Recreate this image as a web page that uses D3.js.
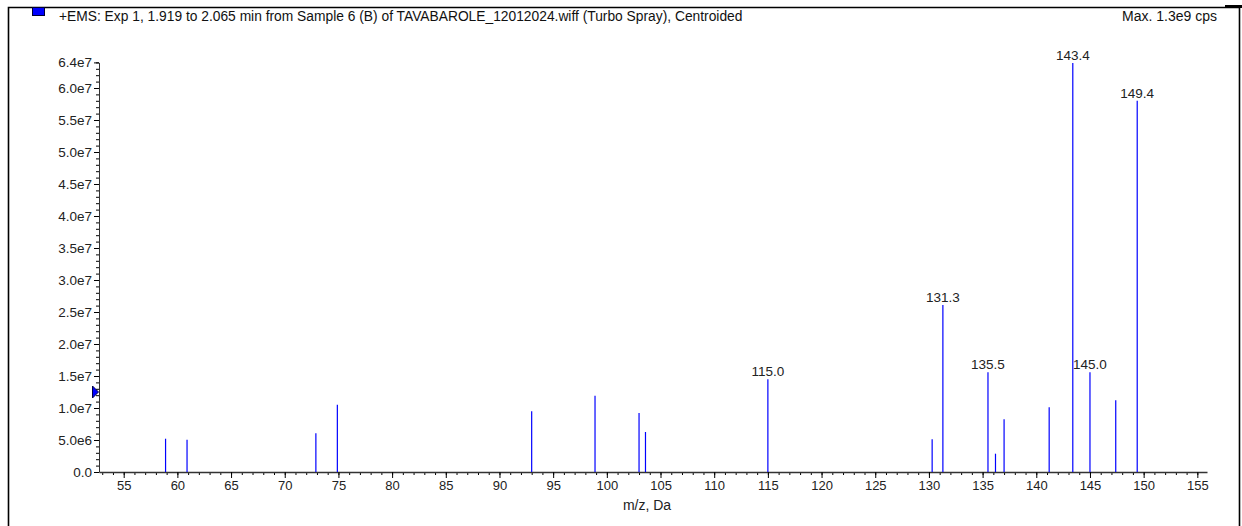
<!DOCTYPE html>
<html>
<head>
<meta charset="utf-8">
<script src="https://cdn.jsdelivr.net/npm/d3@7"></script>
<style>
  body { margin: 0; background: #fff; }
  svg { display: block; font-family: "Liberation Sans", Arial, sans-serif; }
  .axis path.domain { stroke: #333; }
  .axis line { stroke: #000; }
  .axis text { fill: #222; font-family: "Liberation Sans", Arial, sans-serif; }
  .x-axis text { font-size: 13px; }
  .y-axis text { font-size: 13.5px; }
</style>
</head>
<body>
<div id="chart"></div>
<script>
// peaks (m/z, intensity in cps)
const mzValues = [58.9, 60.9, 72.9, 74.9, 93.0, 98.9, 103.0, 103.6, 115.0, 130.3,
                  131.3, 135.5, 136.2, 137.0, 141.2, 143.4, 145.0, 147.4, 149.4];
const intensities = [5.2e6, 5.05e6, 6.05e6, 1.05e7, 9.5e6, 1.19e7, 9.2e6, 6.25e6, 1.45e7, 5.1e6,
                     2.61e7, 1.56e7, 2.86e6, 8.23e6, 1.01e7, 6.39e7, 1.56e7, 1.12e7, 5.80e7];
const labelledPeaks = [115.0, 131.3, 135.5, 143.4, 145.0, 149.4];
const xTicks = d3.range(55, 156, 5);
const yTicks = [0, 5e6, 1e7, 1.5e7, 2e7, 2.5e7, 3e7, 3.5e7, 4e7, 4.5e7, 5e7, 5.5e7, 6e7, 6.4e7];
const thresholdValue = 1.25e7;
const titleText = "+EMS: Exp 1, 1.919 to 2.065 min from Sample 6 (B) of TAVABAROLE_12012024.wiff (Turbo Spray), Centroided";
const maxText = "Max. 1.3e9 cps";

const width = 1242, height = 526;
const data = mzValues.map((mz, i) => ({ mz: mz, y: intensities[i] }));

const svg = d3.select("#chart").append("svg")
    .attr("width", width)
    .attr("height", height);

const x = d3.scaleLinear().domain([52.7, 155.9]).range([99, 1207]);
const y = d3.scaleLinear().domain([0, 6.4e7]).range([472, 62.4]);

// frame
svg.append("path")
    .attr("d", "M8.5,526 V7.5 H1239.5 V526")
    .attr("fill", "none")
    .attr("stroke", "#000")
    .attr("stroke-width", 1.6);
svg.append("rect").attr("x", 1225).attr("y", 5).attr("width", 17).attr("height", 3).attr("fill", "#000");

// legend swatch + header
svg.append("rect")
    .attr("x", 32.5).attr("y", 7.5).attr("width", 12).attr("height", 8)
    .attr("fill", "#0000ff").attr("stroke", "#000033").attr("stroke-width", 1);
svg.append("text")
    .attr("x", 59).attr("y", 20.5)
    .attr("font-size", "13.8px").attr("fill", "#111")
    .text(titleText);
svg.append("text")
    .attr("x", 1217).attr("y", 20.5)
    .attr("text-anchor", "end")
    .attr("font-size", "14px").attr("fill", "#111")
    .text(maxText);

// y axis title, mostly hidden behind the plot area like in the original
svg.append("clipPath").attr("id", "ylabClip")
    .append("rect").attr("x", 31).attr("y", 200).attr("width", 5).attr("height", 130);
svg.append("text")
    .attr("clip-path", "url(#ylabClip)")
    .attr("transform", "translate(40,268) rotate(-90)")
    .attr("text-anchor", "middle")
    .attr("font-size", "14px").attr("fill", "#333")
    .text("Intensity, cps");

// minor ticks
svg.append("g").attr("class", "axis")
    .attr("transform", `translate(0,${y(0)})`)
    .call(d3.axisBottom(x).tickValues(d3.range(53, 156, 1)).tickSize(3).tickFormat(""))
    .call(g => g.select(".domain").remove());
svg.append("g").attr("class", "axis")
    .attr("transform", `translate(${x.range()[0]},0)`)
    .call(d3.axisLeft(y).tickValues(d3.range(0, 6.41e7, 1e6)).tickSize(3).tickFormat(""))
    .call(g => g.select(".domain").remove());

// major axes
svg.append("g").attr("class", "axis x-axis")
    .attr("transform", `translate(0,${y(0)})`)
    .call(d3.axisBottom(x).tickValues(xTicks).tickSize(6).tickSizeOuter(0).tickPadding(3))
    .call(g => g.select(".domain").attr("stroke-width", 1.4));

svg.append("g").attr("class", "axis y-axis")
    .attr("transform", `translate(${x.range()[0]},0)`)
    .call(d3.axisLeft(y).tickValues(yTicks).tickSize(5).tickSizeOuter(0).tickPadding(2)
        .tickFormat(d => d === 0 ? "0.0" : d.toExponential(1).replace("e+", "e")));

svg.append("text")
    .attr("x", 647).attr("y", 510)
    .attr("text-anchor", "middle")
    .attr("font-size", "14px").attr("fill", "#222")
    .text("m/z, Da");

// peaks
svg.selectAll(".peak")
    .data(data)
    .enter()
    .append("line")
    .attr("class", "peak")
    .attr("x1", d => x(d.mz)).attr("x2", d => x(d.mz))
    .attr("y1", y(0)).attr("y2", d => y(d.y))
    .attr("stroke", "#0000ff")
    .attr("stroke-width", 1.2);

svg.selectAll(".peak-label")
    .data(data.filter(d => labelledPeaks.includes(d.mz)))
    .enter()
    .append("text")
    .attr("class", "peak-label")
    .attr("x", d => x(d.mz))
    .attr("y", d => y(d.y) - 3)
    .attr("text-anchor", "middle")
    .attr("font-size", "13.5px")
    .attr("fill", "#222")
    .text(d => d.mz.toFixed(1));

// threshold marker on the intensity axis
const ty = y(thresholdValue);
svg.append("path")
    .attr("d", `M92.5,${ty - 6} L98.5,${ty} L92.5,${ty + 6} Z`)
    .attr("fill", "#0000ff")
    .attr("stroke", "#000044")
    .attr("stroke-width", 1);
</script>
</body>
</html>
